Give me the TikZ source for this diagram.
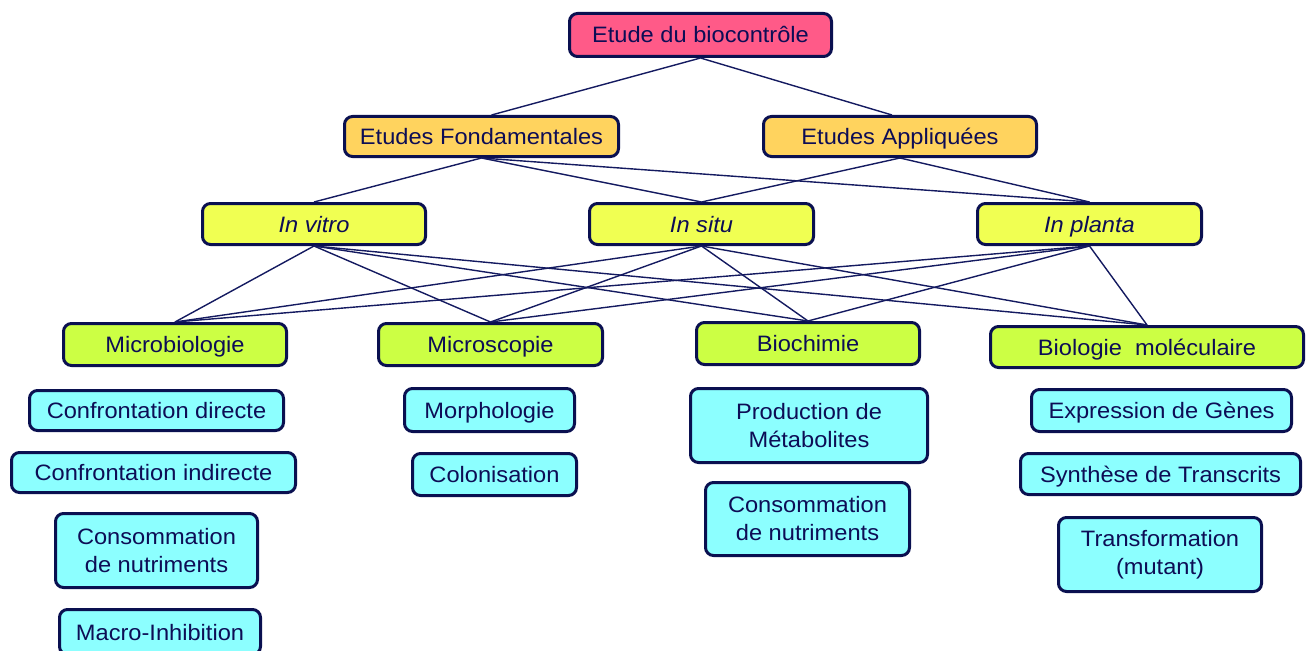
\documentclass[tikz,border=0pt]{standalone}
\usepackage{fontspec}
\setmainfont[FakeStretch=1.06]{Liberation Sans}
\definecolor{bordercol}{HTML}{0A1050}
\definecolor{textcol}{HTML}{0D0D55}
\definecolor{linecol}{HTML}{141A60}
\definecolor{pinkfill}{HTML}{FF5A88}
\definecolor{orangefill}{HTML}{FFD35E}
\definecolor{yellowfill}{HTML}{F0FF52}
\definecolor{limefill}{HTML}{CCFF44}
\definecolor{cyanfill}{HTML}{8CFFFF}
\tikzset{
  box/.style={draw=bordercol, line width=3pt, rounded corners=8pt, text=textcol,
    align=center, inner sep=0pt, font=\fontsize{22.3}{28}\selectfont},
  oneline/.style={text height=16pt, text depth=0pt},
  link/.style={draw=linecol, line width=1.4pt},
  lvlzero/.style={box, oneline, fill=pinkfill},
  lvlone/.style={box, oneline, fill=orangefill},
  lvltwo/.style={box, oneline, fill=yellowfill, font=\fontsize{22.3}{28}\selectfont\itshape},
  lvlthree/.style={box, oneline, fill=limefill},
  leaf/.style={box, fill=cyanfill},
  leafone/.style={leaf, oneline},
}
\begin{document}
\begin{tikzpicture}[x=1pt,y=-1pt]
\useasboundingbox (0,0) rectangle (1308,650);
% level 0
\node[lvlzero, minimum width=262, minimum height=43] (root) at (700.5,35) {Etude du biocontrôle};
% level 1
\node[lvlone, minimum width=274, minimum height=40] (ef) at (481.5,136.5) {Etudes Fondamentales};
\node[lvlone, minimum width=273, minimum height=40] (ea) at (900,136.5) {Etudes Appliquées};
% level 2
\node[lvltwo, minimum width=223, minimum height=41] (iv) at (314,224) {In vitro};
\node[lvltwo, minimum width=224, minimum height=41] (isitu) at (701.5,224) {In situ};
\node[lvltwo, minimum width=224, minimum height=41] (ipl) at (1089.5,224) {In planta};
% level 3
\node[lvlthree, minimum width=223, minimum height=42] (mb) at (175,344.5) {Microbiologie};
\node[lvlthree, minimum width=224, minimum height=42] (ms) at (490.5,344.5) {Microscopie};
\node[lvlthree, minimum width=223, minimum height=42] (bc) at (808,343.5) {Biochimie};
\node[lvlthree, minimum width=313, minimum height=41] (bm) at (1147,347) {Biologie\ \ moléculaire};
% leaves
\node[leafone, minimum width=254, minimum height=40] (cd) at (156.5,410.5) {Confrontation directe};
\node[leafone, minimum width=284, minimum height=40] (ci) at (153.5,472.5) {Confrontation indirecte};
\node[leaf, minimum width=202, minimum height=74] (cna) at (156.5,550.5) {Consommation\\de nutriments};
\node[leafone, minimum width=201, minimum height=45] (mi) at (160,632) {Macro-Inhibition};
\node[leafone, minimum width=170, minimum height=43] (mo) at (489.5,410) {Morphologie};
\node[leafone, minimum width=164, minimum height=42] (co) at (494.5,474.5) {Colonisation};
\node[leaf, minimum width=237, minimum height=74] (pm) at (809,425.5) {Production de\\Métabolites};
\node[leaf, minimum width=204, minimum height=73] (cnb) at (807.5,519) {Consommation\\de nutriments};
\node[leafone, minimum width=260, minimum height=42] (eg) at (1161.5,410.5) {Expression de Gènes};
\node[leafone, minimum width=280, minimum height=41] (st) at (1160.5,474) {Synthèse de Transcrits};
\node[leaf, minimum width=203, minimum height=74] (tm) at (1160,554.5) {Transformation\\(mutant)};
% connectors
\draw[link] (root.south) -- ([xshift=10pt]ef.north);
\draw[link] (root.south) -- ([xshift=-8pt]ea.north);
\foreach \t in {iv,isitu,ipl} {\draw[link] (ef.south) -- (\t.north);}
\foreach \t in {isitu,ipl} {\draw[link] (ea.south) -- (\t.north);}
\foreach \s in {iv,isitu,ipl} {
  \foreach \t in {mb,ms,bc,bm} {\draw[link] (\s.south) -- (\t.north);}
}
\end{tikzpicture}
\end{document}
